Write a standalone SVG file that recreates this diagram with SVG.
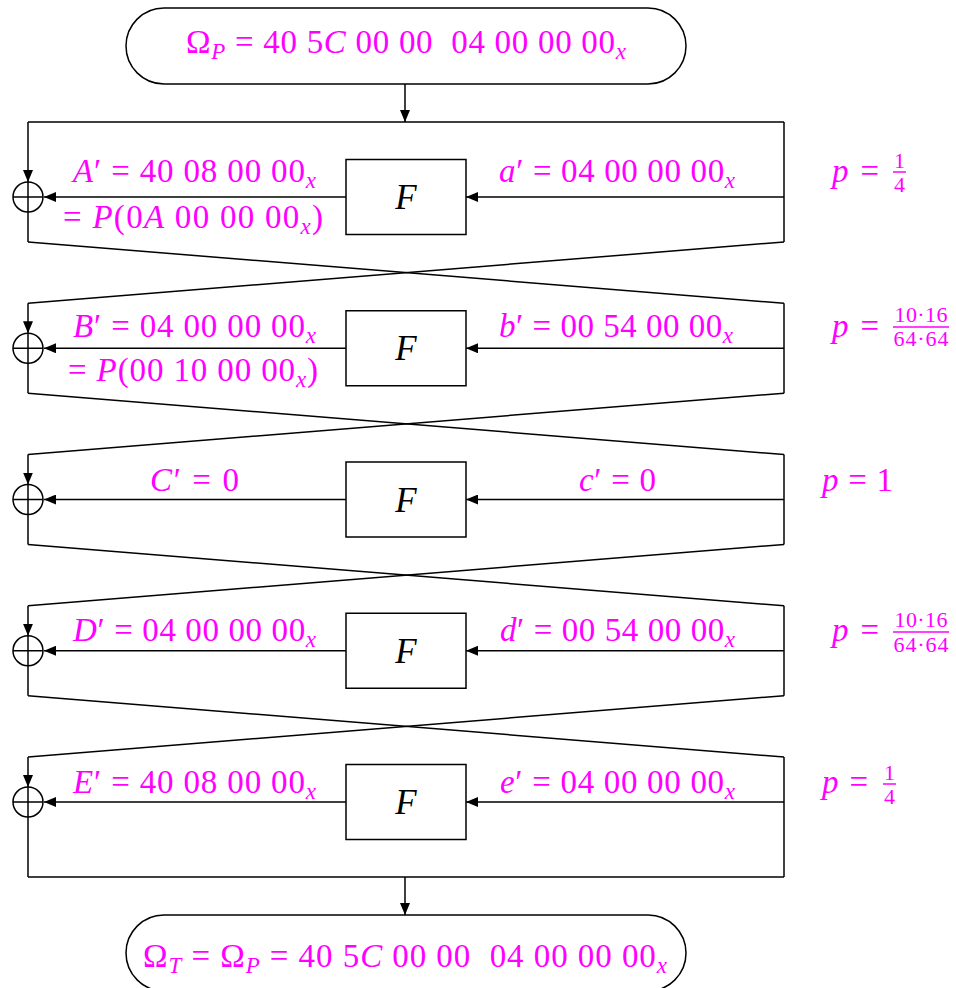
<svg xmlns="http://www.w3.org/2000/svg" width="956" height="988" viewBox="0 0 956 988">
<defs>
<style>
.ln{fill:none;stroke:#000;stroke-width:1.5}
.box{fill:#fff;stroke:#000;stroke-width:1.5}
.lbl{font-family:"Liberation Serif","DejaVu Serif",serif;font-size:33px;fill:#ff00ff}
.fr{font-family:"Liberation Serif","DejaVu Serif",serif;font-size:22px;fill:#ff00ff;text-anchor:middle}
.it{font-style:italic}
.sub{font-style:italic;font-size:23px}
.fl{font-family:"Liberation Serif","DejaVu Serif",serif;font-size:35px;font-style:italic;fill:#000;text-anchor:middle}
.bar{stroke:#ff00ff;stroke-width:1.5}
</style>
<marker id="ah" markerUnits="userSpaceOnUse" markerWidth="13" markerHeight="10" refX="12" refY="5" orient="auto">
<path d="M0,0 L12,5 L0,10 z" fill="#000"/>
</marker>
</defs>

<g id="start">
<rect class="box" x="126" y="8" width="560" height="76" rx="38" ry="38"/>
<text class="lbl" x="186" y="53" textLength="440" lengthAdjust="spacing" xml:space="preserve">Ω<tspan class="sub" dy="6">P</tspan><tspan dy="-6"> = 40 5</tspan><tspan class="it">C</tspan> 00 00  04 00 00 00<tspan class="sub" dy="6">x</tspan></text>
</g>

<g id="connectors">
<line class="ln" x1="405" y1="84" x2="405" y2="122" marker-end="url(#ah)"/>
<line class="ln" x1="28" y1="122" x2="784" y2="122"/>
<line class="ln" x1="28" y1="122" x2="28" y2="182" marker-end="url(#ah)"/>
<line class="ln" x1="28" y1="212" x2="28" y2="242"/>
<line class="ln" x1="784" y1="122" x2="784" y2="242"/>
<line class="ln" x1="784" y1="197" x2="466" y2="197" marker-end="url(#ah)"/>
<line class="ln" x1="346" y1="197" x2="44" y2="197" marker-end="url(#ah)"/>
<line class="ln" x1="28" y1="242" x2="784" y2="303.25"/>
<line class="ln" x1="784" y1="242" x2="28" y2="303.25"/>
<line class="ln" x1="28" y1="303.25" x2="28" y2="333.25" marker-end="url(#ah)"/>
<line class="ln" x1="28" y1="363.25" x2="28" y2="393.25"/>
<line class="ln" x1="784" y1="303.25" x2="784" y2="393.25"/>
<line class="ln" x1="784" y1="348.25" x2="466" y2="348.25" marker-end="url(#ah)"/>
<line class="ln" x1="346" y1="348.25" x2="44" y2="348.25" marker-end="url(#ah)"/>
<line class="ln" x1="28" y1="393.25" x2="784" y2="454.5"/>
<line class="ln" x1="784" y1="393.25" x2="28" y2="454.5"/>
<line class="ln" x1="28" y1="454.5" x2="28" y2="484.5" marker-end="url(#ah)"/>
<line class="ln" x1="28" y1="514.5" x2="28" y2="544.5"/>
<line class="ln" x1="784" y1="454.5" x2="784" y2="544.5"/>
<line class="ln" x1="784" y1="499.5" x2="466" y2="499.5" marker-end="url(#ah)"/>
<line class="ln" x1="346" y1="499.5" x2="44" y2="499.5" marker-end="url(#ah)"/>
<line class="ln" x1="28" y1="544.5" x2="784" y2="605.75"/>
<line class="ln" x1="784" y1="544.5" x2="28" y2="605.75"/>
<line class="ln" x1="28" y1="605.75" x2="28" y2="635.75" marker-end="url(#ah)"/>
<line class="ln" x1="28" y1="665.75" x2="28" y2="695.75"/>
<line class="ln" x1="784" y1="605.75" x2="784" y2="695.75"/>
<line class="ln" x1="784" y1="650.75" x2="466" y2="650.75" marker-end="url(#ah)"/>
<line class="ln" x1="346" y1="650.75" x2="44" y2="650.75" marker-end="url(#ah)"/>
<line class="ln" x1="28" y1="695.75" x2="784" y2="757"/>
<line class="ln" x1="784" y1="695.75" x2="28" y2="757"/>
<line class="ln" x1="28" y1="757" x2="28" y2="787" marker-end="url(#ah)"/>
<line class="ln" x1="28" y1="817" x2="28" y2="877"/>
<line class="ln" x1="784" y1="757" x2="784" y2="877"/>
<line class="ln" x1="784" y1="802" x2="466" y2="802" marker-end="url(#ah)"/>
<line class="ln" x1="346" y1="802" x2="44" y2="802" marker-end="url(#ah)"/>
<line class="ln" x1="28" y1="877" x2="784" y2="877"/>
<line class="ln" x1="405" y1="877" x2="405" y2="915" marker-end="url(#ah)"/>
</g>

<g id="xor1"><circle class="ln" cx="28" cy="197" r="15"/><line class="ln" x1="13" y1="197" x2="43" y2="197"/><line class="ln" x1="28" y1="182" x2="28" y2="212"/></g>
<g id="xor2"><circle class="ln" cx="28" cy="348.25" r="15"/><line class="ln" x1="13" y1="348.25" x2="43" y2="348.25"/><line class="ln" x1="28" y1="333.25" x2="28" y2="363.25"/></g>
<g id="xor3"><circle class="ln" cx="28" cy="499.5" r="15"/><line class="ln" x1="13" y1="499.5" x2="43" y2="499.5"/><line class="ln" x1="28" y1="484.5" x2="28" y2="514.5"/></g>
<g id="xor4"><circle class="ln" cx="28" cy="650.75" r="15"/><line class="ln" x1="13" y1="650.75" x2="43" y2="650.75"/><line class="ln" x1="28" y1="635.75" x2="28" y2="665.75"/></g>
<g id="xor5"><circle class="ln" cx="28" cy="802" r="15"/><line class="ln" x1="13" y1="802" x2="43" y2="802"/><line class="ln" x1="28" y1="787" x2="28" y2="817"/></g>

<g id="F1"><rect class="box" x="346" y="159.5" width="120" height="75"/><text class="fl" x="406" y="209">F</text></g>
<g id="F2"><rect class="box" x="346" y="310.75" width="120" height="75"/><text class="fl" x="406" y="360.25">F</text></g>
<g id="F3"><rect class="box" x="346" y="462" width="120" height="75"/><text class="fl" x="406" y="511.5">F</text></g>
<g id="F4"><rect class="box" x="346" y="613.25" width="120" height="75"/><text class="fl" x="406" y="662.75">F</text></g>
<g id="F5"><rect class="box" x="346" y="764.5" width="120" height="75"/><text class="fl" x="406" y="814">F</text></g>

<g id="labels1">
<text class="lbl" x="73" y="182" textLength="243" lengthAdjust="spacing"><tspan class="it">A</tspan>′ = 40 08 00 00<tspan class="sub" dy="6">x</tspan></text>
<text class="lbl" x="63" y="228" textLength="260" lengthAdjust="spacing">= <tspan class="it">P</tspan>(0<tspan class="it">A</tspan> 00 00 00<tspan class="sub" dy="6">x</tspan><tspan dy="-6">)</tspan></text>
<text class="lbl" x="499" y="182" textLength="236" lengthAdjust="spacing"><tspan class="it">a</tspan>′ = 04 00 00 00<tspan class="sub" dy="6">x</tspan></text>
<text class="lbl" x="832" y="182" textLength="47" lengthAdjust="spacing"><tspan class="it">p</tspan> =</text>
<line class="bar" x1="893" y1="172" x2="906" y2="172"/>
<text class="fr" x="899.5" y="168">1</text>
<text class="fr" x="899.5" y="192">4</text>
</g>

<g id="labels2">
<text class="lbl" x="73" y="337" textLength="243" lengthAdjust="spacing"><tspan class="it">B</tspan>′ = 04 00 00 00<tspan class="sub" dy="6">x</tspan></text>
<text class="lbl" x="68" y="381" textLength="250" lengthAdjust="spacing">= <tspan class="it">P</tspan>(00 10 00 00<tspan class="sub" dy="6">x</tspan><tspan dy="-6">)</tspan></text>
<text class="lbl" x="499" y="337" textLength="234" lengthAdjust="spacing"><tspan class="it">b</tspan>′ = 00 54 00 00<tspan class="sub" dy="6">x</tspan></text>
<text class="lbl" x="832" y="337" textLength="47" lengthAdjust="spacing"><tspan class="it">p</tspan> =</text>
<line class="bar" x1="893" y1="327" x2="949" y2="327"/>
<text class="fr" x="921" y="322" textLength="53" lengthAdjust="spacing">10·16</text>
<text class="fr" x="921" y="346" textLength="55" lengthAdjust="spacing">64·64</text>
</g>

<g id="labels3">
<text class="lbl" x="150" y="491" textLength="89" lengthAdjust="spacing"><tspan class="it">C</tspan>′ = 0</text>
<text class="lbl" x="579" y="491" textLength="77" lengthAdjust="spacing"><tspan class="it">c</tspan>′ = 0</text>
<text class="lbl" x="822" y="491" textLength="71" lengthAdjust="spacing"><tspan class="it">p</tspan> = 1</text>
</g>

<g id="labels4">
<text class="lbl" x="73" y="641" textLength="243" lengthAdjust="spacing"><tspan class="it">D</tspan>′ = 04 00 00 00<tspan class="sub" dy="6">x</tspan></text>
<text class="lbl" x="500" y="641" textLength="235" lengthAdjust="spacing"><tspan class="it">d</tspan>′ = 00 54 00 00<tspan class="sub" dy="6">x</tspan></text>
<text class="lbl" x="832" y="641" textLength="47" lengthAdjust="spacing"><tspan class="it">p</tspan> =</text>
<line class="bar" x1="893" y1="632" x2="949" y2="632"/>
<text class="fr" x="921" y="627" textLength="53" lengthAdjust="spacing">10·16</text>
<text class="fr" x="921" y="652" textLength="55" lengthAdjust="spacing">64·64</text>
</g>

<g id="labels5">
<text class="lbl" x="73" y="793" textLength="243" lengthAdjust="spacing"><tspan class="it">E</tspan>′ = 40 08 00 00<tspan class="sub" dy="6">x</tspan></text>
<text class="lbl" x="500" y="793" textLength="235" lengthAdjust="spacing"><tspan class="it">e</tspan>′ = 04 00 00 00<tspan class="sub" dy="6">x</tspan></text>
<text class="lbl" x="822" y="793" textLength="46" lengthAdjust="spacing"><tspan class="it">p</tspan> =</text>
<line class="bar" x1="883" y1="784" x2="896" y2="784"/>
<text class="fr" x="889.5" y="780">1</text>
<text class="fr" x="889.5" y="804">4</text>
</g>

<g id="end">
<rect class="box" x="126" y="915" width="560" height="76" rx="38" ry="38"/>
<text class="lbl" x="143" y="967" textLength="524" lengthAdjust="spacing" xml:space="preserve">Ω<tspan class="sub" dy="6">T</tspan><tspan dy="-6"> = Ω</tspan><tspan class="sub" dy="6">P</tspan><tspan dy="-6"> = 40 5</tspan><tspan class="it">C</tspan> 00 00  04 00 00 00<tspan class="sub" dy="6">x</tspan></text>
</g>
</svg>
